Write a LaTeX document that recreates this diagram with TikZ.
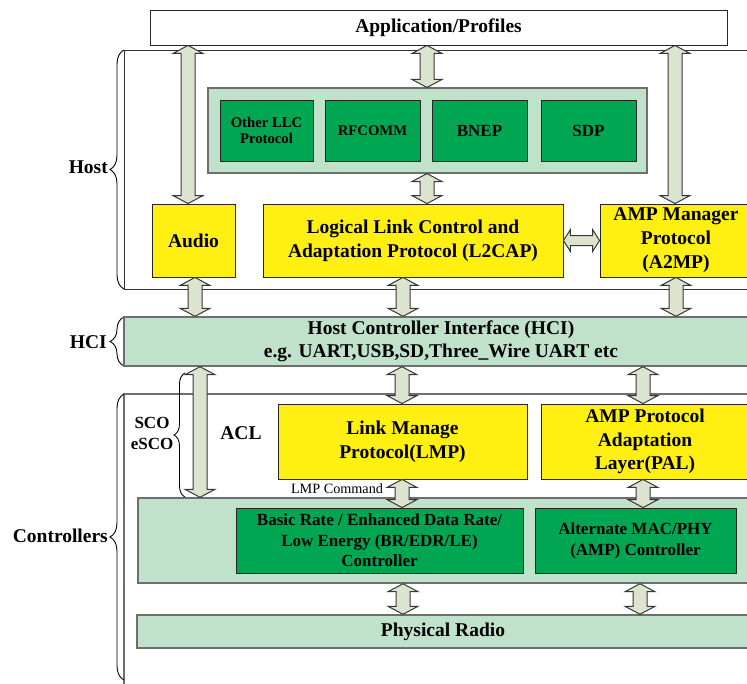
\documentclass[tikz,border=0pt]{standalone}
\usepackage{fontspec}
\setmainfont{Liberation Serif}
\usetikzlibrary{calc,decorations.pathreplacing}
\definecolor{lgreen}{RGB}{192,226,202}
\definecolor{dgreen}{RGB}{0,166,81}
\definecolor{yel}{RGB}{255,240,18}
\definecolor{arrfill}{RGB}{220,228,207}
\definecolor{arredge}{RGB}{55,55,55}
\definecolor{greyline}{RGB}{110,110,110}
\tikzset{
  box/.style={draw=black!85, line width=0.9pt, inner sep=0pt, align=center,
              font=\fontsize{19.5}{24}\selectfont\bfseries},
  ybox/.style={box, fill=yel},
  gbox/.style={box, fill=dgreen},
  lbox/.style={box, fill=lgreen, draw=greyline, line width=1.4pt},
  frame/.style={draw=black!80, line width=0.9pt},
  cframe/.style={draw=greyline, line width=1.3pt},
  fatarrow/.style={fill=arrfill, draw=arredge, line width=1pt, line join=miter},
  brc/.style={draw=black, line width=0.9pt, decorate, decoration={brace, amplitude=#1}},
  lbl/.style={font=\fontsize{19.5}{24}\selectfont\bfseries, inner sep=0pt, align=center},
}
\newcommand\varr[2]{%
  \path[fatarrow] let \p1=#1, \p2=#2 in
    (\x1,\y1) -- (\x1-15pt,\y1-8pt) -- (\x1-7pt,\y1-8pt) -- (\x1-7pt,\y2+8pt)
    -- (\x1-15pt,\y2+8pt) -- (\x1,\y2) -- (\x1+15pt,\y2+8pt) -- (\x1+7pt,\y2+8pt)
    -- (\x1+7pt,\y1-8pt) -- (\x1+15pt,\y1-8pt) -- cycle;}
\newcommand\harr[2]{%
  \path[fatarrow] let \p1=#1, \p2=#2 in
    (\x1,\y1) -- (\x1+7pt,\y1+11pt) -- (\x1+7pt,\y1+5pt) -- (\x2-7pt,\y1+5pt)
    -- (\x2-7pt,\y1+11pt) -- (\x2,\y1) -- (\x2-7pt,\y1-11pt) -- (\x2-7pt,\y1-5pt)
    -- (\x1+7pt,\y1-5pt) -- (\x1+7pt,\y1-11pt) -- cycle;}
\begin{document}
\begin{tikzpicture}[x=1pt,y=-1pt]
\useasboundingbox (0,0) rectangle (747,683);
\clip (0,0) rectangle (747,683);
\fill[white] (0,0) rectangle (747,683);

% frames
\draw[frame] (124,50) rectangle (790,289);
\draw[cframe] (124,394) rectangle (790,720);

% braces
\draw[brc=14pt] (124,289) -- (124,50);
\draw[brc=14pt] (124,366) -- (124,317);
\draw[brc=14pt] (124,680) -- (124,394);
\draw[brc=11pt] (185,497) -- (185,373);

% side labels
\node[lbl, anchor=east] (hostlbl) at (108,167) {Host};
\node[lbl, anchor=east] (hcilbl) at (107,342) {HCI};
\node[lbl, anchor=east] (ctrllbl) at (108,536) {Controllers};
\node[lbl, font=\fontsize{17}{21}\selectfont\bfseries] (sco) at (152,433) {SCO\\eSCO};
\node[lbl] (acl) at (241,433) {ACL};

% host boxes
\node[box, fill=white, minimum width=577pt, minimum height=35pt] (app) at (438.5,27.5) {Application/Profiles};
\node[lbox, line width=1.1pt, minimum width=439pt, minimum height=85pt] (llc) at (427.5,130.5) {};
\node[gbox, minimum width=93pt, minimum height=61pt, font=\fontsize{14.7}{16.7}\selectfont\bfseries] (other) at (266.5,130.5) {Other LLC\\Protocol};
\node[gbox, minimum width=95pt, minimum height=61pt, font=\fontsize{14.7}{16.7}\selectfont\bfseries] (rfcomm) at (372.5,130.5) {RFCOMM};
\node[gbox, minimum width=95pt, minimum height=61pt, font=\fontsize{17}{20}\selectfont\bfseries] (bnep) at (479.5,130.5) {BNEP};
\node[gbox, minimum width=95pt, minimum height=61pt, font=\fontsize{17}{20}\selectfont\bfseries] (sdp) at (588.5,130.5) {SDP};
\node[ybox, minimum width=83pt, minimum height=73pt] (audio) at (193.5,240.5) {Audio};
\node[ybox, minimum width=300pt, minimum height=73pt] (l2cap) at (413,240.5) {Logical Link Control and\\Adaptation Protocol (L2CAP)};
\node[ybox, minimum width=152pt, minimum height=73pt] (a2mp) at (676,240.5) {AMP Manager\\Protocol\\(A2MP)};

% HCI
\node[lbox, minimum width=634pt, minimum height=49pt, font=\fontsize{19.5}{23}\selectfont\bfseries] (hci) at (441,341.5) {Host Controller Interface (HCI)\\e.g. UART,USB,SD,Three\_Wire UART etc};

% controllers
\node[ybox, minimum width=249pt, minimum height=75pt] (lmp) at (402.5,441.5) {Link Manage\\Protocol(LMP)};
\node[ybox, minimum width=208pt, minimum height=75pt, font=\fontsize{19.5}{23.5}\selectfont\bfseries] (pal) at (645,441.5) {AMP Protocol\\Adaptation\\Layer(PAL)};
\node[lbox, minimum width=632pt, minimum height=85pt] (ctrl) at (454,540.5) {};
\node[gbox, minimum width=287pt, minimum height=65pt, font=\fontsize{17}{20.5}\selectfont\bfseries] (br) at (379.5,540.5) {Basic Rate / Enhanced Data Rate/\\Low Energy (BR/EDR/LE)\\Controller};
\node[gbox, minimum width=201pt, minimum height=65pt, font=\fontsize{17}{21}\selectfont\bfseries] (amp) at (635.5,540.5) {Alternate MAC/PHY\\(AMP) Controller};
\node[lbox, minimum width=612pt, minimum height=33pt] (radio) at (443,631.5) {Physical Radio};
\node[inner sep=0pt, font=\fontsize{14.2}{16}\selectfont] (lmpcmd) at (337,489) {LMP Command};

% arrows
\varr{(app.south -| 188,0)}{(audio.north -| 188,0)}
\varr{(app.south -| 427,0)}{(llc.north -| 427,0)}
\varr{(llc.south -| 427,0)}{(l2cap.north -| 427,0)}
\varr{(app.south -| 675,0)}{(a2mp.north -| 675,0)}
\harr{(l2cap.east)}{(a2mp.west)}
\varr{(audio.south -| 195,0)}{(hci.north -| 195,0)}
\varr{(l2cap.south -| 403,0)}{(hci.north -| 403,0)}
\varr{(a2mp.south -| 676,0)}{(hci.north -| 676,0)}
\varr{(hci.south -| 200,0)}{(ctrl.north -| 200,0)}
\varr{(hci.south -| 402,0)}{(lmp.north -| 402,0)}
\varr{(hci.south -| 643,0)}{(pal.north -| 643,0)}
\varr{(lmp.south -| 402,0)}{(br.north -| 402,0)}
\varr{(pal.south -| 643,0)}{(amp.north -| 643,0)}
\varr{(ctrl.south -| 403,0)}{(radio.north -| 403,0)}
\varr{(ctrl.south -| 640,0)}{(radio.north -| 640,0)}
\end{tikzpicture}
\end{document}
